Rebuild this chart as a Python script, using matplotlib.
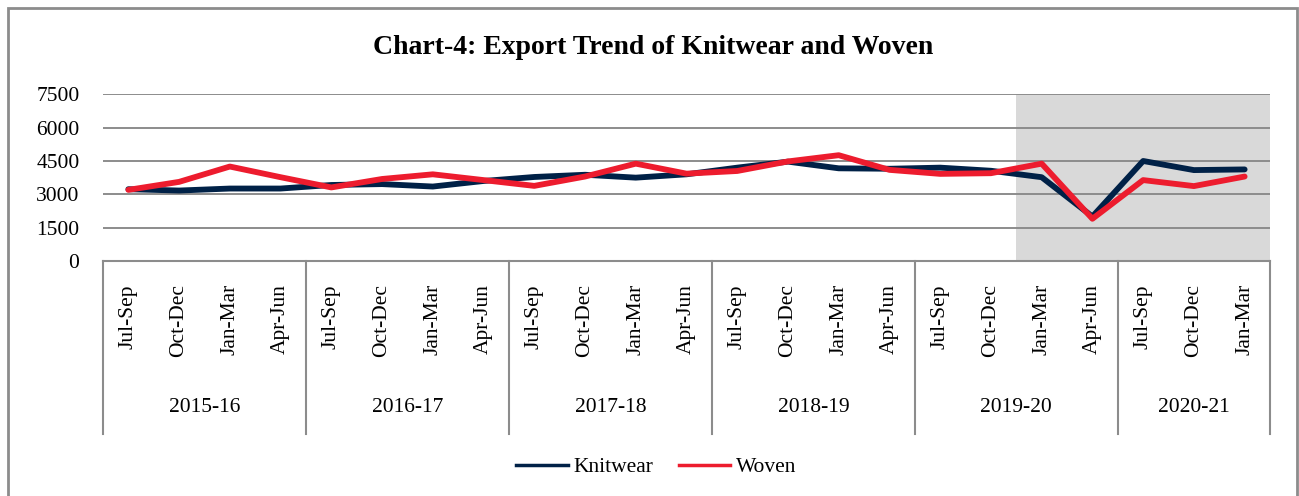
import matplotlib.pyplot as plt
from matplotlib.lines import Line2D
from matplotlib.patches import Rectangle

plt.rcParams["font.family"] = ["Liberation Serif", "DejaVu Serif"]

years = ["2015-16", "2016-17", "2017-18", "2018-19", "2019-20", "2020-21"]
quarters_per_year = [4, 4, 4, 4, 4, 3]
quarter_names = ["Jul-Sep", "Oct-Dec", "Jan-Mar", "Apr-Jun"]

knitwear = [3230, 3170, 3260, 3260, 3420, 3460, 3350, 3600,
            3780, 3880, 3750, 3900, 4200, 4470, 4170, 4150,
            4200, 4060, 3770, 2000, 4500, 4090, 4120]
woven = [3200, 3560, 4250, 3770, 3310, 3690, 3900, 3640,
         3380, 3800, 4380, 3930, 4050, 4480, 4760, 4100,
         3920, 3950, 4380, 1900, 3640, 3370, 3800]

shade_from = 18  # Jan-Mar 2019-20 onward

knit_color = "#002147"
woven_color = "#ED1C2E"
grid_color = "#8c8c8c"

fig = plt.figure(figsize=(12.99, 4.96), dpi=100)
ax = fig.add_axes([103/1299, 1-261/496, (1270-103)/1299, (261-94.3)/496])

labels = []
for n in quarters_per_year:
    labels += quarter_names[:n]
x = list(range(len(labels)))

ax.axvspan(shade_from - 0.5, len(labels) - 0.5, color="#d9d9d9", lw=0, zorder=0)

ax.plot(x, knitwear, color=knit_color, lw=4.2, solid_capstyle="round", zorder=3)
ax.plot(x, woven, color=woven_color, lw=4.2, solid_capstyle="round", zorder=4)

ax.set_xlim(-0.5, len(labels) - 0.5)
ax.set_ylim(0, 7500)
ax.set_yticks(range(0, 7501, 1500))
ax.tick_params(axis="y", length=0, pad=17, labelsize=15.5)
ax.set_xticks([])
ax.grid(axis="y", color=grid_color, lw=1.4, zorder=1)
ax.set_axisbelow(True)
for s in ["top", "right", "left"]:
    ax.spines[s].set_visible(False)
ax.spines["bottom"].set_color(grid_color)
ax.spines["bottom"].set_linewidth(1.5)

# multi-level category axis
trans = ax.get_xaxis_transform()
for i, lab in enumerate(labels):
    ax.text(i, -0.138, lab, transform=trans, rotation=90, ha="center", va="top",
            fontsize=15.5)
start = 0
edges = [-0.5]
for yr, n in zip(years, quarters_per_year):
    mid = start + (n - 1) / 2
    ax.text(mid, -0.876, yr, transform=trans, ha="center", va="center", fontsize=15.5)
    start += n
    edges.append(start - 0.5)
for e in edges:
    ax.plot([e, e], [0, -1.04], transform=trans, color=grid_color, lw=1.5,
            clip_on=False)

fig.text(0.503, 1-47/496, "Chart-4: Export Trend of Knitwear and Woven",
         ha="center", va="center", fontsize=20, fontweight="bold")

handles = [Line2D([], [], color=knit_color, lw=2.5),
           Line2D([], [], color=woven_color, lw=2.5)]
fig.legend(handles, ["Knitwear", "Woven"], loc="center",
           bbox_to_anchor=(0.505, 1-467/496), ncol=2, frameon=False,
           fontsize=15.5, handlelength=2.4, handletextpad=0.25, columnspacing=1.2)

fig.patches.append(Rectangle((8/1299, -0.1), (1297-8)/1299, 1.1-8/496,
                             transform=fig.transFigure, fill=False,
                             edgecolor=grid_color, lw=2))

fig.savefig("out.png", dpi=100)
